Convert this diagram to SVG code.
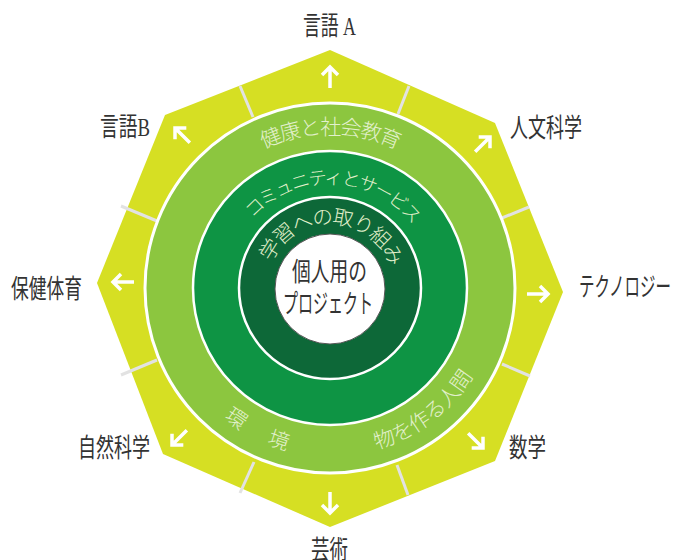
<svg xmlns="http://www.w3.org/2000/svg" xmlns:xlink="http://www.w3.org/1999/xlink" width="674" height="560" viewBox="0 0 674 560">
<style>
.lbl{font-family:"Liberation Serif","Noto Sans CJK JP",serif;font-size:26px;fill:#333;}
.ctr{font-family:"Liberation Serif","Noto Sans CJK JP",serif;font-size:26px;fill:#333;}
.ring{font-family:"Noto Sans CJK JP",sans-serif;font-weight:300;fill:#e2f0cc;}
.div{stroke:#e2e2e2;stroke-width:3;}
</style>
<defs>
<path id="arrow" d="M0,0 V21 M-8,8 L0,0 L8,8" fill="none" stroke="#fff" stroke-width="3.5"/>
<path id="pLightTop" d="M196.6,211 A154,154 0 0 1 463.4,211"/>
<path id="pLightBot" d="M162,288 A168,168 0 0 0 498,288"/>
<path id="pMid" d="M226,288 A104,104 0 0 1 434,288"/>
<path id="pDark" d="M266,288 A64,64 0 0 1 394,288"/>
</defs>
<g id="octagon">
<polygon points="330,50 495,123 563,292 495,461 330,527 163,454 97,283 165,115" fill="#d6df23"/>
</g>
<g id="connectors">
<line class="div" x1="240" y1="86" x2="253" y2="117"/>
<line class="div" x1="409" y1="86" x2="398" y2="114"/>
<line class="div" x1="529" y1="207" x2="502" y2="218"/>
<line class="div" x1="530" y1="376" x2="502" y2="364"/>
<line class="div" x1="408" y1="495" x2="397" y2="465"/>
<line class="div" x1="240" y1="493" x2="254" y2="462"/>
<line class="div" x1="121" y1="375" x2="157" y2="360"/>
<line class="div" x1="121" y1="206" x2="157" y2="221"/>
<use xlink:href="#arrow" transform="translate(330,67)"/>
<use xlink:href="#arrow" transform="translate(490,137) rotate(45)"/>
<use xlink:href="#arrow" transform="translate(548,294) rotate(90)"/>
<use xlink:href="#arrow" transform="translate(483,448) rotate(135)"/>
<use xlink:href="#arrow" transform="translate(330,513) rotate(180)"/>
<use xlink:href="#arrow" transform="translate(172,445) rotate(225)"/>
<use xlink:href="#arrow" transform="translate(113,282) rotate(270)"/>
<use xlink:href="#arrow" transform="translate(175,128) rotate(315)"/>
</g>
<g id="ring-light">
<circle cx="330" cy="288" r="185" fill="#8cc63f" stroke="#fff" stroke-width="3"/>
<text class="ring" font-size="21" letter-spacing="-1.5"><textPath xlink:href="#pLightTop" startOffset="50%" text-anchor="middle">健康と社会教育</textPath></text>
<text class="ring" font-size="21" letter-spacing="4"><textPath xlink:href="#pLightBot" startOffset="148.7">環　境</textPath></text>
<text class="ring" font-size="21" letter-spacing="-0.5"><textPath xlink:href="#pLightBot" startOffset="311.4">物を作る人間</textPath></text>
</g>
<g id="ring-mid">
<circle cx="330" cy="288" r="137" fill="#0e9444" stroke="#fff" stroke-width="2.5"/>
<text class="ring" font-size="18.5" letter-spacing="-2"><textPath xlink:href="#pMid" startOffset="51%" text-anchor="middle">コミュニティとサービス</textPath></text>
</g>
<g id="ring-dark">
<circle cx="330" cy="288" r="91" fill="#0d6838" stroke="#fff" stroke-width="2.5"/>
<text class="ring" font-size="20.5" letter-spacing="-1.5"><textPath xlink:href="#pDark" startOffset="51%" text-anchor="middle">学習への取り組み</textPath></text>
</g>
<g id="center">
<circle cx="330" cy="289" r="55" fill="#fff" stroke="#555" stroke-width="1"/>
<text class="ctr" x="292" y="281" textLength="75" lengthAdjust="spacingAndGlyphs">個人用の</text>
<text class="ctr" x="283" y="313" textLength="90" lengthAdjust="spacingAndGlyphs">プロジェクト</text>
</g>
<g id="labels">
<text class="lbl" x="303" y="35" textLength="53" lengthAdjust="spacingAndGlyphs">言語 A</text>
<text class="lbl" x="100" y="136" textLength="50" lengthAdjust="spacingAndGlyphs">言語B</text>
<text class="lbl" x="510" y="137" textLength="72" lengthAdjust="spacingAndGlyphs">人文科学</text>
<text class="lbl" x="11" y="298" textLength="71" lengthAdjust="spacingAndGlyphs">保健体育</text>
<text class="lbl" x="579" y="296" textLength="92" lengthAdjust="spacingAndGlyphs">テクノロジー</text>
<text class="lbl" x="78" y="457" textLength="72" lengthAdjust="spacingAndGlyphs">自然科学</text>
<text class="lbl" x="509" y="457" textLength="37" lengthAdjust="spacingAndGlyphs">数学</text>
<text class="lbl" x="311" y="559" textLength="37" lengthAdjust="spacingAndGlyphs">芸術</text>
</g>
</svg>
